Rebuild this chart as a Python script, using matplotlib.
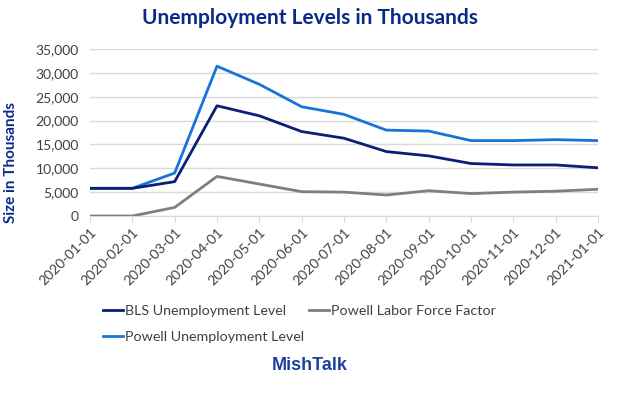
import numpy as np
import matplotlib
matplotlib.use("Agg")
import matplotlib.pyplot as plt
from matplotlib.lines import Line2D

# Datos (miles)
fechas = ["2020-01-01", "2020-02-01", "2020-03-01", "2020-04-01", "2020-05-01",
          "2020-06-01", "2020-07-01", "2020-08-01", "2020-09-01", "2020-10-01",
          "2020-11-01", "2020-12-01", "2021-01-01"]
bls = [5800, 5800, 7200, 23100, 21000, 17700, 16300, 13500, 12600, 11000, 10700, 10700, 10100]
powell = [5800, 5800, 9000, 31400, 27600, 22900, 21300, 18000, 17800, 15800, 15800, 16000, 15800]
factor = [0, 0, 1800, 8300, 6700, 5100, 5000, 4400, 5300, 4700, 5000, 5200, 5600]

C_BLS, C_POW, C_FAC = "#0a1f78", "#1874d8", "#7f7f7f"
C_TIT = "#0a2a8a"
INK = "#404040"

plt.rcParams["font.family"] = ["Lato", "DejaVu Sans"]

fig = plt.figure(figsize=(6.2, 3.93), dpi=100)
ax = fig.add_axes([90 / 620, 1 - 216 / 393, 508 / 620, 167 / 393])

x = np.arange(len(fechas))
ax.plot(x, factor, color=C_FAC, lw=2.0, zorder=3)
ax.plot(x, powell, color=C_POW, lw=2.0, zorder=4)
ax.plot(x, bls, color=C_BLS, lw=2.0, zorder=5)

ax.set_xlim(0, len(fechas) - 1)
ax.set_ylim(0, 35000)
ax.set_yticks(np.arange(0, 35001, 5000))
ax.set_yticklabels([f"{v:,}" for v in range(0, 35001, 5000)])
ax.set_xticks(x)
ax.set_xticklabels(fechas, rotation=45, ha="right", rotation_mode="anchor")
ax.grid(axis="y", color="#d9d9d9", lw=1.0)
ax.set_axisbelow(True)
for s in ["top", "right", "left"]:
    ax.spines[s].set_visible(False)
ax.spines["bottom"].set_color("#d9d9d9")
ax.tick_params(axis="y", length=0, labelsize=10, labelcolor=INK, pad=8)
ax.tick_params(axis="x", length=4, color="#d9d9d9", labelsize=10, labelcolor=INK, pad=3)

ax.set_ylabel("Size in Thousands", color=C_TIT, fontsize=11, fontweight="bold")
ax.yaxis.set_label_coords(-0.142, 0.32)

fig.text(0.5, 1 - 18 / 393, "Unemployment Levels in Thousands", ha="center",
         va="center", fontsize=15, fontweight="bold", color=C_TIT)

handles = [Line2D([], [], color=C_BLS, lw=2.0),
           Line2D([], [], color=C_POW, lw=2.0),
           Line2D([], [], color=C_FAC, lw=2.0)]
labels = ["BLS Unemployment Level", "Powell Unemployment Level", "Powell Labor Force Factor"]
fig.legend(handles, labels, ncol=2, frameon=False, fontsize=10.3, labelcolor=INK,
           loc="upper left", bbox_to_anchor=(103 / 620, 1 - 305 / 393),
           handlelength=1.4, handletextpad=0.15, columnspacing=0.35, labelspacing=0.95,
           borderpad=0, borderaxespad=0)

fig.text(0.5, 1 - 366 / 393, "MishTalk", ha="center", va="center", fontsize=13,
         fontweight="bold", color="#1f3f9f", family=["Liberation Sans", "DejaVu Sans"])

fig.savefig("out.png", dpi=100, facecolor="white")
